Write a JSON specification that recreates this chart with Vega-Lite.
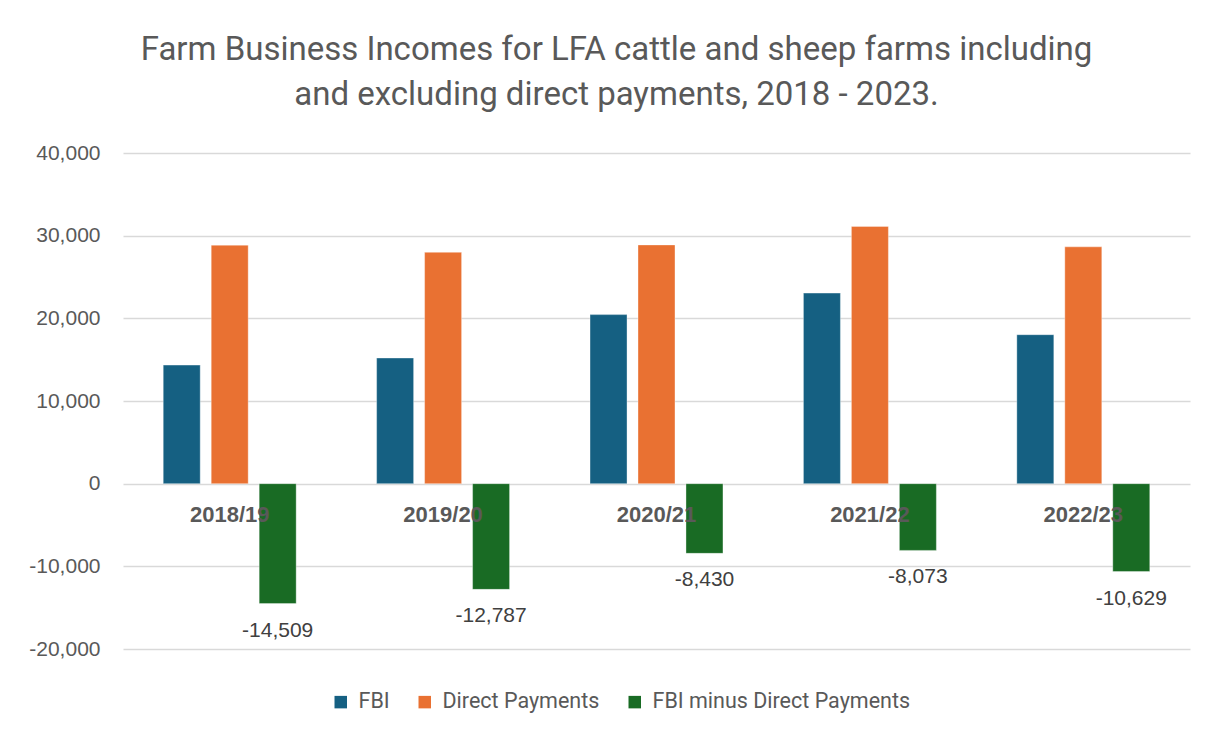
{
  "$schema": "https://vega.github.io/schema/vega-lite/v6.json",
  "width": 1067,
  "height": 496,
  "autosize": "none",
  "padding": {"left": 123, "top": 153, "right": 34, "bottom": 85},
  "background": "white",
  "config": {
    "locale": {"number": {"decimal": ".", "thousands": ",", "grouping": [3], "currency": ["$", ""], "minus": "-"}},
    "view": {"stroke": null}
  },
  "title": {
    "text": ["Farm Business Incomes for LFA cattle and sheep farms including", "and excluding direct payments, 2018 - 2023."],
    "font": "Roboto",
    "fontSize": 33,
    "fontWeight": "normal",
    "color": "#595959",
    "anchor": "middle",
    "dx": -40,
    "lineHeight": 45,
    "offset": 30
  },
  "data": {
    "values": [
      {"year": "2018/19", "series": "FBI", "value": 14340},
      {"year": "2018/19", "series": "Direct Payments", "value": 28849},
      {"year": "2018/19", "series": "FBI minus Direct Payments", "value": -14509},
      {"year": "2019/20", "series": "FBI", "value": 15200},
      {"year": "2019/20", "series": "Direct Payments", "value": 27987},
      {"year": "2019/20", "series": "FBI minus Direct Payments", "value": -12787},
      {"year": "2020/21", "series": "FBI", "value": 20450},
      {"year": "2020/21", "series": "Direct Payments", "value": 28880},
      {"year": "2020/21", "series": "FBI minus Direct Payments", "value": -8430},
      {"year": "2021/22", "series": "FBI", "value": 23050},
      {"year": "2021/22", "series": "Direct Payments", "value": 31123},
      {"year": "2021/22", "series": "FBI minus Direct Payments", "value": -8073},
      {"year": "2022/23", "series": "FBI", "value": 18020},
      {"year": "2022/23", "series": "Direct Payments", "value": 28649},
      {"year": "2022/23", "series": "FBI minus Direct Payments", "value": -10629}
    ]
  },
  "encoding": {
    "x": {
      "field": "year",
      "type": "nominal",
      "sort": null,
      "scale": {"paddingInner": 0.377, "paddingOuter": 0.1885},
      "axis": {
        "title": null,
        "orient": "bottom",
        "offset": -165,
        "domain": false,
        "ticks": false,
        "labelAngle": 0,
        "labelFont": "Liberation Sans",
        "labelFontSize": 22,
        "labelFontWeight": "bold",
        "labelColor": "#595959",
        "labelPadding": 20,
        "zindex": 1,
        "grid": false
      }
    },
    "xOffset": {
      "field": "series",
      "type": "nominal",
      "sort": ["FBI", "Direct Payments", "FBI minus Direct Payments"],
      "scale": {"paddingInner": 0.229, "paddingOuter": 0}
    },
    "y": {
      "field": "value",
      "type": "quantitative",
      "scale": {"domain": [-20000, 40000], "nice": false},
      "axis": {
        "title": null,
        "values": [-20000, -10000, 0, 10000, 20000, 30000, 40000],
        "format": ",d",
        "domain": false,
        "ticks": false,
        "labelFont": "Liberation Sans",
        "labelFontSize": 21,
        "labelColor": "#595959",
        "labelPadding": 23,
        "gridColor": "#d9d9d9",
        "gridWidth": 1.4
      }
    }
  },
  "layer": [
    {
      "mark": {"type": "bar", "stroke": "white", "strokeWidth": 0.6, "strokeOpacity": 0.6},
      "encoding": {
        "color": {
          "field": "series",
          "type": "nominal",
          "scale": {
            "domain": ["FBI", "Direct Payments", "FBI minus Direct Payments"],
            "range": ["#156082", "#E97132", "#196B24"]
          },
          "legend": {
            "title": null,
            "orient": "none",
            "direction": "horizontal",
            "legendX": 207,
            "legendY": 538,
            "symbolType": "square",
            "symbolSize": 156,
            "symbolStrokeWidth": 0,
            "labelFont": "Roboto",
            "labelFontSize": 21.5,
            "labelColor": "#595959",
            "labelOffset": 7,
            "labelLimit": 0,
            "columnPadding": 24
          }
        }
      }
    },
    {
      "transform": [{"filter": "datum.series === 'FBI minus Direct Payments'"}],
      "mark": {"type": "text", "baseline": "middle", "dy": 27, "font": "Liberation Sans", "fontSize": 21, "color": "#404040"},
      "encoding": {
        "text": {"field": "value", "type": "quantitative", "format": ",d"}
      }
    }
  ]
}
